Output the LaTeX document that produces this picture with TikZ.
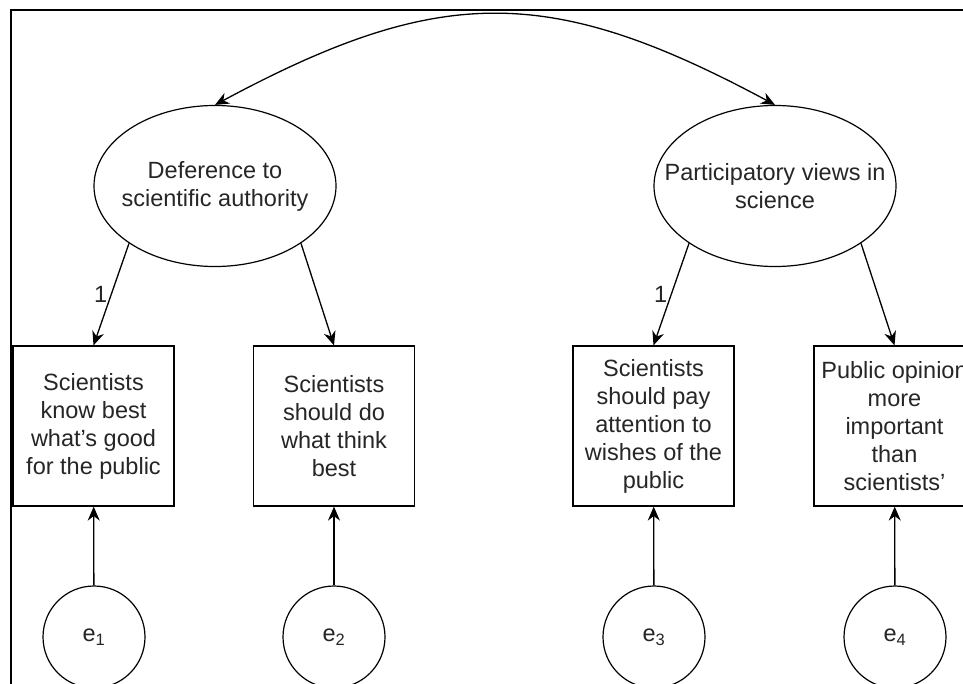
\documentclass[tikz,border=0pt]{standalone}
\usepackage{fontspec}
\setmainfont{Liberation Sans}
\usetikzlibrary{arrows.meta,shapes.geometric}
\begin{document}
\begin{tikzpicture}[x=1pt, y=-1pt, >={Stealth[length=14pt,width=12pt]},
    txt/.style={font=\fontsize{23.5}{28}\selectfont, text=black!85},
    latent/.style={draw, ellipse, txt, line width=1.2pt, minimum width=242pt, minimum height=161pt, inner xsep=-26pt, inner ysep=0pt, align=center},
    item/.style={draw, rectangle, txt, line width=1.2pt, minimum width=161pt, minimum height=160pt, inner sep=0pt, align=center},
    err/.style={draw, circle, txt, line width=1.2pt, minimum size=102pt, inner sep=0pt}]
            \path[use as bounding box, clip] (0,0) rectangle (963,684);
            \fill[white] (0,0) rectangle (963,684);
            \draw[line width=2.2pt] (11,684) -- (11,10) -- (963,10);
            
            \node[latent] (D) at (215,186) {Deference to\\scientific authority};
            \node[latent] (P) at (775,186) {Participatory views in\\science};
            
            \node[item] (x1) at (93.5,426) {Scientists\\know best\\what's good\\for the public};
            \node[item] (x2) at (334,426) {Scientists\\should do\\what think\\best};
            \node[item] (x3) at (653.5,426) {Scientists\\should pay\\attention to\\wishes of the\\public};
            \node[item] (x4) at (894.5,426) {Public opinion\\more\\important\\than\\scientists'};
            
            \node[err] (e1) at (94,637) {e\textsubscript{1}};
            \node[err] (e2) at (334,637) {e\textsubscript{2}};
            \node[err] (e3) at (654,637) {e\textsubscript{3}};
            \node[err] (e4) at (895,637) {e\textsubscript{4}};
            
            \draw[<->, line width=1.3pt] (D.north) .. controls (440,-16) and (550,-16) .. (P.north); % covariance
            
            \draw[->, line width=1.3pt] (D.south west) -- (x1.north) node[midway, left, txt]{1};
            \draw[->, line width=1.3pt] (D.south east) -- (x2.north);
            \draw[->, line width=1.3pt] (P.south west) -- (x3.north) node[midway, left, txt]{1};
            \draw[->, line width=1.3pt] (P.south east) -- (x4.north);
            
            \draw[->, line width=1.3pt] (e1) -- (x1);
            \draw[->, line width=1.3pt] (e2) -- (x2);
            \draw[->, line width=1.3pt] (e3) -- (x3);
            \draw[->, line width=1.3pt] (e4) -- (x4);
        \end{tikzpicture}
\end{document}
